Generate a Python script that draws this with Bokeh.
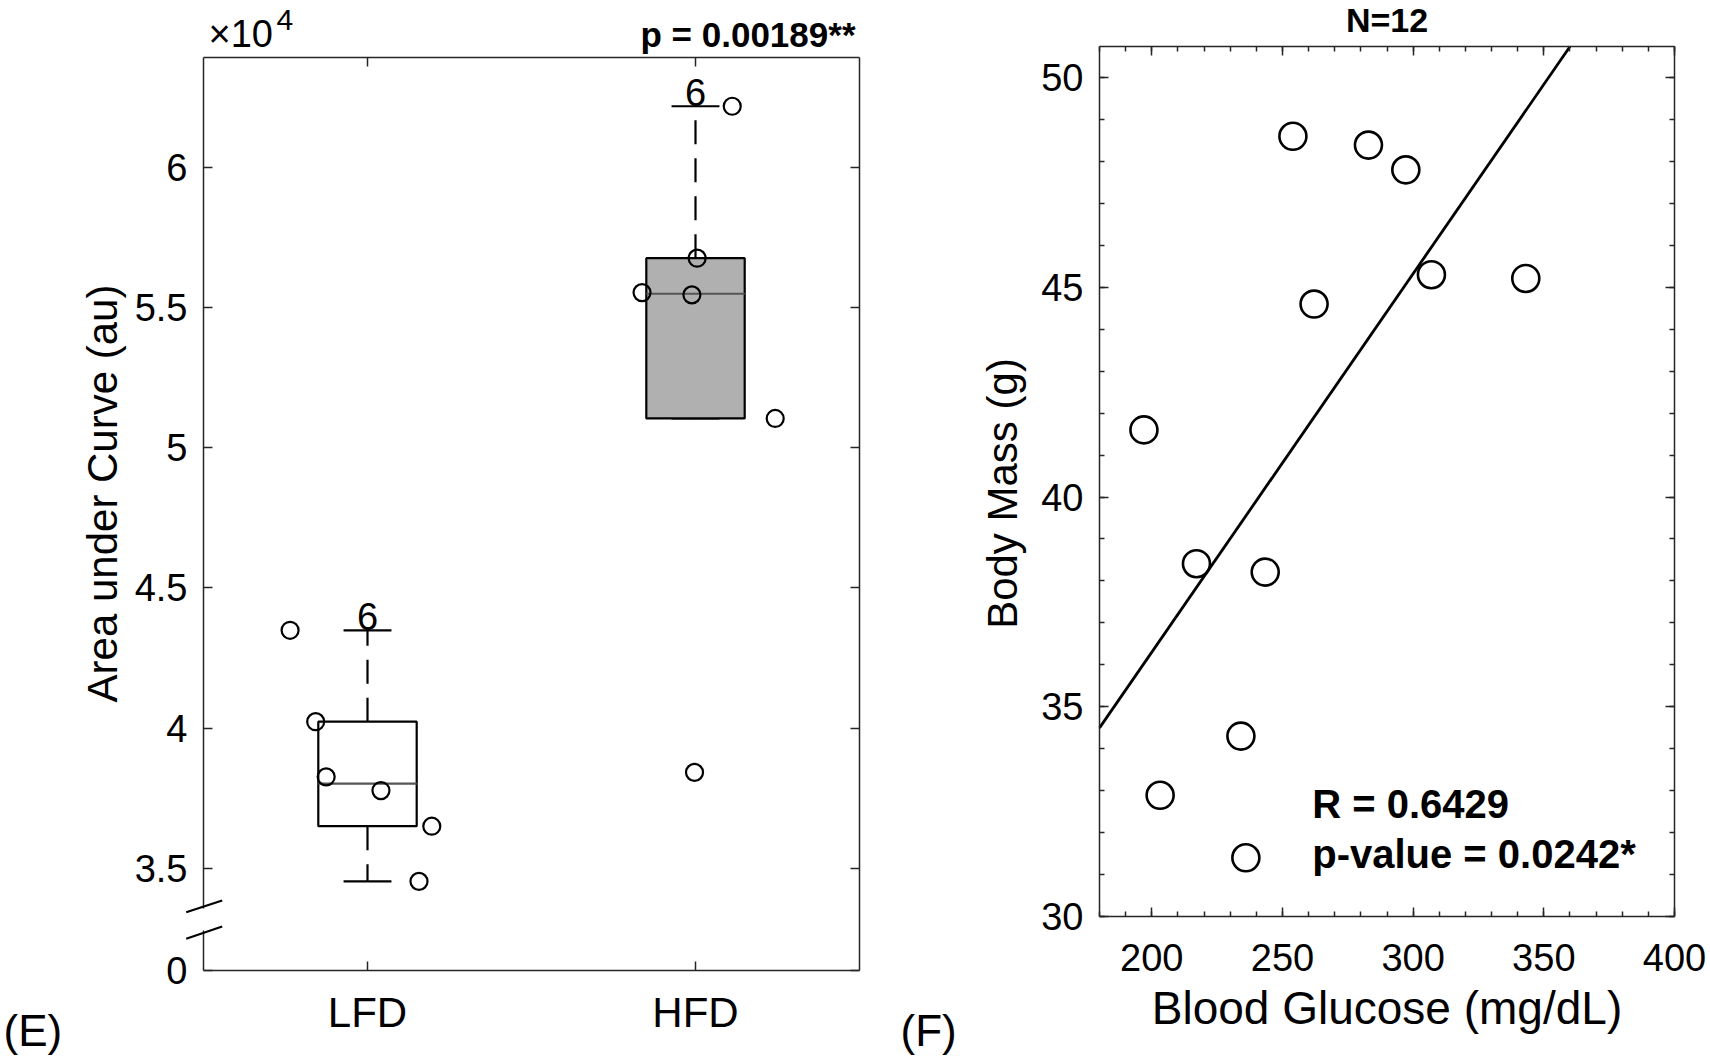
import numpy as np
from bokeh.plotting import figure
from bokeh.layouts import row
from bokeh.models import Range1d, FixedTicker, LinearAxis, Label, BoxAnnotation
from bokeh.core.properties import value
from bokeh.embed import file_html
from bokeh.resources import INLINE

FONT = "Liberation Sans"
DESC = 0.212   # font descent (em) used to place text baselines

# ---------------- Panel (E) data ----------------
groups = ["LFD", "HFD"]
lfd_auc = [43490, 40230, 38260, 37770, 36500, 34530]
lfd_jitter = [-0.236, -0.158, -0.126, 0.041, 0.196, 0.157]
hfd_auc = [62190, 56770, 55540, 55460, 51050, 38420]
hfd_jitter = [0.112, 0.005, -0.163, -0.011, 0.243, -0.003]
auc_ticks = [35000, 40000, 45000, 50000, 55000, 60000]
auc_tick_labels = ["3.5", "4", "4.5", "5", "5.5", "6"]
auc_floor = 31350          # bottom of the broken axis, labelled "0"
auc_floor_label = "0"
auc_top = 63930
p_text_E = "p = 0.00189**"
ylabel_E = "Area under Curve (au)"

# ---------------- Panel (F) data ----------------
glucose = [254.0, 282.9, 297.2, 307.0, 343.1, 262.1, 197.0, 217.1, 243.4, 234.1, 203.2, 236.0]
body_mass = [48.60, 48.39, 47.80, 45.30, 45.21, 44.60, 41.60, 38.41, 38.21, 34.30, 32.89, 31.40]
glucose_lim = [180, 400]
mass_lim = [30, 50.74]
glucose_ticks = [200, 250, 300, 350, 400]
glucose_minor = list(range(180, 401, 10))
mass_ticks = [30, 35, 40, 45, 50]
mass_minor = list(range(30, 51))
n_text = "N=12"
r_text = "R = 0.6429"
pval_text = "p-value = 0.0242*"
xlabel_F = "Blood Glucose (mg/dL)"
ylabel_F = "Body Mass (g)"

AX = "#262626"
H = 1060


class Panel:
    """Maps canvas pixels of one figure to its data space (axes box given in pixels)."""

    def __init__(self, W, box, xlim, ylim):
        left, right, top, bottom = box
        self.W = W
        self.kx = (xlim[1] - xlim[0]) / (right - left)
        self.ky = (ylim[1] - ylim[0]) / (bottom - top)
        self.x0 = xlim[0] - left * self.kx
        self.x1 = xlim[1] + (W - right) * self.kx
        self.y1 = ylim[1] + top * self.ky
        self.y0 = ylim[0] - (H - bottom) * self.ky

    def x(self, px):
        return self.x0 + px * self.kx

    def y(self, py):
        return self.y1 - py * self.ky


def style_axis(ax, size="38px"):
    ax.axis_line_color = AX
    ax.axis_line_width = 1.5
    ax.major_tick_line_color = AX
    ax.major_tick_line_width = 1.5
    ax.minor_tick_line_color = AX
    ax.minor_tick_line_width = 1.5
    ax.major_tick_in = 9
    ax.major_tick_out = 0
    ax.minor_tick_in = 5
    ax.minor_tick_out = 0
    ax.major_label_text_font = FONT
    ax.major_label_text_font_size = size
    ax.major_label_text_color = "black"
    ax.axis_label_text_font = FONT
    ax.axis_label_text_font_size = "46px"
    ax.axis_label_text_font_style = "normal"
    ax.axis_label_text_color = "black"


def mirror(p, ticker, place, loc, bounds):
    ax = LinearAxis(ticker=ticker, fixed_location=loc, bounds=bounds)
    style_axis(ax, "38px")
    ax.major_label_text_alpha = 0
    p.add_layout(ax, place)
    return ax


def label(p, pn, px, base_py, text, size, style="normal", align="left"):
    """Text whose alphabetic baseline sits at canvas pixel row base_py."""
    p.add_layout(Label(x=pn.x(px), y=pn.y(base_py + DESC * size), text=text, text_font=FONT,
                       text_font_size=f"{size}px", text_font_style=style, text_align=align,
                       text_baseline="bottom", text_color="black"))


def vlabel(p, pn, right_px, center_py, text, size):
    """Vertical axis title: reads bottom-to-top, its descent edge at right_px."""
    p.add_layout(Label(x=pn.x(right_px), y=pn.y(center_py), text=text, text_font=FONT,
                       text_font_size=f"{size}px", text_align="center", text_baseline="bottom",
                       angle=np.pi / 2, text_color="black"))


def make_fig(pn, W):
    p = figure(width=W, height=H, x_range=Range1d(pn.x0, pn.x1), y_range=Range1d(pn.y0, pn.y1),
               output_backend="svg", toolbar_location=None, min_border=0)
    p.title.visible = False
    p.xgrid.visible = False
    p.ygrid.visible = False
    p.outline_line_color = None
    p.border_fill_color = "white"
    p.background_fill_color = "white"
    return p


# ======================= Panel E =======================
W1 = 890
E = Panel(W1, (203, 859, 57, 970), (0.5, 2.5), (auc_floor, auc_top))
p1 = make_fig(E, W1)

centers = [1, 2]
xa = p1.xaxis[0]
xa.ticker = FixedTicker(ticks=centers)
xa.major_label_overrides = {c: g for c, g in zip(centers, groups)}
style_axis(xa, "42px")
xa.major_label_standoff = 18
xa.fixed_location = auc_floor
xa.bounds = (0.5, 2.5)

yt_vals = [auc_floor] + auc_ticks
ya = p1.yaxis[0]
ya.ticker = FixedTicker(ticks=yt_vals)
ov = {auc_floor: auc_floor_label}
ov.update({t: s for t, s in zip(auc_ticks, auc_tick_labels)})
ya.major_label_overrides = ov
style_axis(ya, "38px")
ya.major_label_standoff = 16
ya.fixed_location = 0.5
ya.bounds = (auc_floor, auc_top)
mirror(p1, FixedTicker(ticks=centers), "above", auc_top, (0.5, 2.5))
mirror(p1, FixedTicker(ticks=yt_vals), "right", 2.5, (auc_floor, auc_top))

data_sets = [lfd_auc, hfd_auc]
jitters = [lfd_jitter, hfd_jitter]
fills = ["white", "#b0b0b0"]
half_w = 0.15
cap_w = 0.073
for c, vals, jit, fc in zip(centers, data_sets, jitters, fills):
    v = np.array(vals, dtype=float)
    q1, med, q3 = np.quantile(v, [0.25, 0.5, 0.75], method="hazen")
    iqr = q3 - q1
    upper = v[v <= q3 + 1.5 * iqr].max()
    lower = v[v >= q1 - 1.5 * iqr].min()
    p1.segment(x0=[c, c], y0=[q3, q1], x1=[c, c], y1=[upper, lower],
               line_color="black", line_width=2.2, line_dash="24 14")
    p1.segment(x0=[c - cap_w, c - cap_w], y0=[upper, lower],
               x1=[c + cap_w, c + cap_w], y1=[upper, lower],
               line_color="black", line_width=2.2)
    p1.quad(left=[c - half_w], right=[c + half_w], bottom=[q1], top=[q3],
            fill_color=fc, line_color="black", line_width=2.2)
    p1.segment(x0=[c - half_w], y0=[med], x1=[c + half_w], y1=[med],
               line_color="#555555", line_width=2.2)
    p1.text(x=[c], y=[upper], text=[str(len(v))], text_font=value(FONT),
            text_font_size="38px", text_align="center", text_baseline="bottom",
            text_color="black")
    p1.scatter(x=[c + j for j in jit], y=vals, marker="circle", size=17,
               fill_alpha=0, line_color="black", line_width=2.2)

# exponent, p-value, axis title, panel letter (placed in canvas pixels)
label(p1, E, 208, 46.7, "\u00d710", 38)
label(p1, E, 276, 23.5, "4", 30)
label(p1, E, 855, 46, p_text_E, 35, style="bold", align="right")
label(p1, E, 3, 1045, "(E)", 44)
vlabel(p1, E, 125, 493, ylabel_E, 42)

# axis break: gap in the axis line and two slanted marks
p1.add_layout(BoxAnnotation(left=E.x(199), right=E.x(208), top=E.y(908), bottom=E.y(930),
                            fill_color="white", fill_alpha=1.0, line_color=None,
                            level="annotation"))
p1.segment(x0=[E.x(185.7), E.x(185.7)], y0=[E.y(911.7), E.y(938.3)],
           x1=[E.x(221.7), E.x(221.7)], y1=[E.y(900), E.y(926)],
           line_color="black", line_width=2.2, level="overlay")

# ======================= Panel F =======================
W2 = 820
F = Panel(W2, (209, 784, 46, 916), glucose_lim, mass_lim)
p2 = make_fig(F, W2)

xb = p2.xaxis[0]
yb = p2.yaxis[0]
xb.ticker = FixedTicker(ticks=glucose_ticks, minor_ticks=glucose_minor)
yb.ticker = FixedTicker(ticks=mass_ticks, minor_ticks=mass_minor)
style_axis(xb, "38px")
style_axis(yb, "38px")
xb.major_label_standoff = 27
yb.major_label_standoff = 16
xb.axis_label = xlabel_F
xb.axis_label_standoff = 8
xb.fixed_location = mass_lim[0]
xb.bounds = tuple(glucose_lim)
yb.fixed_location = glucose_lim[0]
yb.bounds = tuple(mass_lim)
mirror(p2, FixedTicker(ticks=glucose_ticks, minor_ticks=glucose_minor), "above",
       mass_lim[1], tuple(glucose_lim))
mirror(p2, FixedTicker(ticks=mass_ticks, minor_ticks=mass_minor), "right",
       glucose_lim[1], tuple(mass_lim))

# least-squares fit, clipped to the axes box
slope, intercept = np.polyfit(glucose, body_mass, 1)


def clip_x(xv):
    yv = slope * xv + intercept
    if yv > mass_lim[1]:
        return (mass_lim[1] - intercept) / slope
    if yv < mass_lim[0]:
        return (mass_lim[0] - intercept) / slope
    return xv


fx = np.array([clip_x(glucose_lim[0]), clip_x(glucose_lim[1])])
p2.line(x=fx, y=slope * fx + intercept, line_color="black", line_width=2.8)
p2.scatter(x=glucose, y=body_mass, marker="circle", size=27,
           fill_alpha=0, line_color="black", line_width=2.6)

OFF = 890  # left edge of this figure on the page
label(p2, F, 1311.7 - OFF, 817, r_text, 40, style="bold")
label(p2, F, 1311.7 - OFF, 867, pval_text, 40, style="bold")
label(p2, F, 1386.5 - OFF, 31.7, n_text, 34, style="bold", align="center")
label(p2, F, 900 - OFF, 1045, "(F)", 44)
vlabel(p2, F, 1025 - OFF, 493, ylabel_F, 42)

layout = row(p1, p2, spacing=0)
open("out.html", "w").write(file_html(layout, INLINE))
